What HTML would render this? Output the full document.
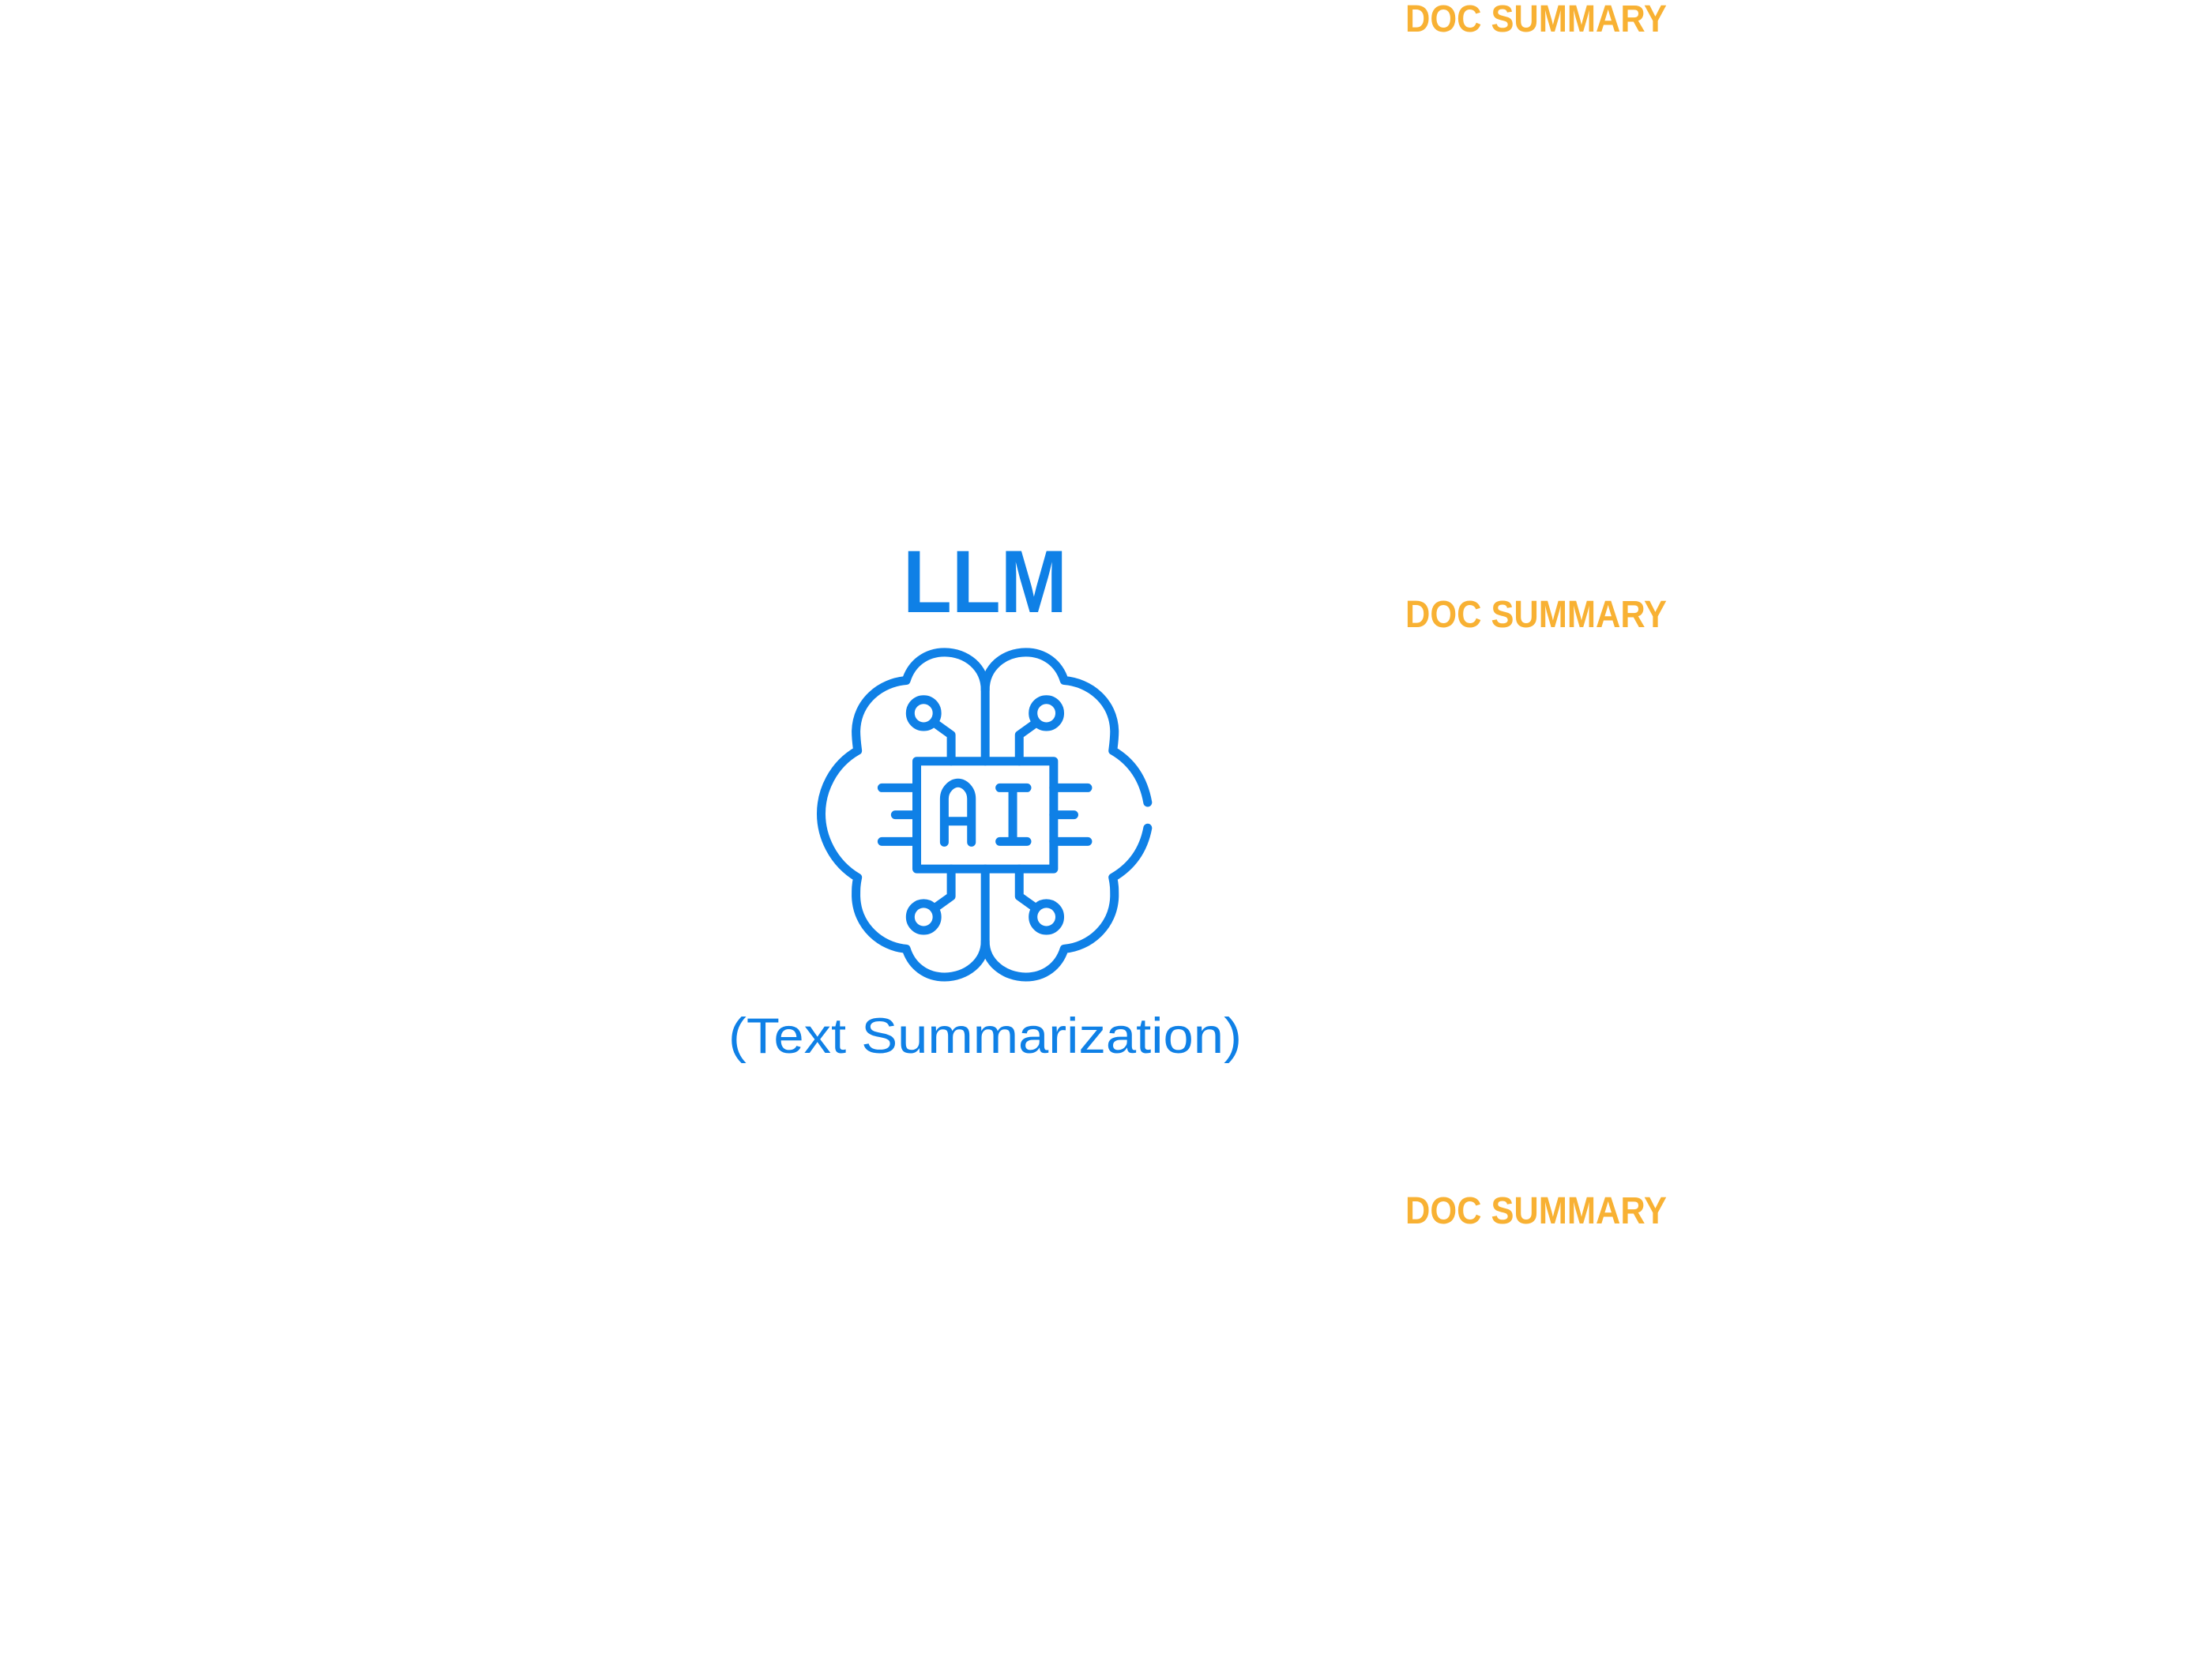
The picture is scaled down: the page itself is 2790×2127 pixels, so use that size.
<!DOCTYPE html>
<html>
<head>
<meta charset="utf-8">
<style>
  html,body{margin:0;padding:0;background:#fff;}
  body{width:2790px;height:2127px;position:relative;overflow:hidden;}
  svg{position:absolute;left:0;top:0;}
</style>
</head>
<body>
<svg width="2790" height="2127" viewBox="0 0 2790 2127">
  <g font-family="Liberation Sans, sans-serif" font-weight="bold" fill="#f8b133" font-size="48">
    <text x="1779" y="40" textLength="331" lengthAdjust="spacingAndGlyphs">DOC SUMMARY</text>
    <text x="1779" y="794" textLength="331" lengthAdjust="spacingAndGlyphs">DOC SUMMARY</text>
    <text x="1779" y="1549" textLength="331" lengthAdjust="spacingAndGlyphs">DOC SUMMARY</text>
  </g>
  <text x="1143" y="775" font-family="Liberation Sans, sans-serif" font-weight="bold" font-size="112" fill="#0f80e6" textLength="208" lengthAdjust="spacingAndGlyphs">LLM</text>
  <text x="922" y="1333" font-family="Liberation Sans, sans-serif" font-size="63" fill="#0f80e6" textLength="650" lengthAdjust="spacingAndGlyphs">(Text Summarization)</text>
  <svg x="900" y="650" width="800" height="750" viewBox="0 0 1560 1578" preserveAspectRatio="none">
    <g fill="none" stroke="#0f80e6" stroke-width="11" stroke-linecap="round" stroke-linejoin="round" vector-effect="non-scaling-stroke">
      <path vector-effect="non-scaling-stroke" d="M677,660 L677,470 C677,410 630,370 577,370 C530,370 495,400 482,445 C420,450 360,500 358,580 C358,600 360,615 362,632 C300,670 272,740 272,800 C272,860 300,930 362,970 C358,990 358,1000 358,1020 C360,1100 420,1155 482,1160 C495,1205 530,1235 577,1235 C630,1235 677,1195 677,1140 L677,947"/>
      <path vector-effect="non-scaling-stroke" d="M677,470 C677,410 724,370 777,370 C824,370 859,400 872,445 C934,450 994,500 996,580 C996,600 994,615 992,632 C1040,662 1068,710 1078,770"/>
      <path vector-effect="non-scaling-stroke" d="M1078,838 C1068,895 1040,940 992,970 C996,990 996,1000 996,1020 C994,1100 934,1155 872,1160 C859,1205 824,1235 777,1235 C724,1235 677,1195 677,1140"/>
      <rect vector-effect="non-scaling-stroke" x="508" y="660" width="338" height="287"/>
      <path vector-effect="non-scaling-stroke" d="M422,731 L508,731 M455,803 L508,803 M422,874 L508,874"/>
      <path vector-effect="non-scaling-stroke" d="M846,731 L930,731 M846,803 L896,803 M846,874 L930,874"/>
      <path vector-effect="non-scaling-stroke" d="M593,660 L593,590 L558,563 M761,660 L761,590 L796,563"/>
      <path vector-effect="non-scaling-stroke" d="M593,947 L593,1020 L558,1047 M761,947 L761,1020 L796,1047"/>
      <ellipse vector-effect="non-scaling-stroke" cx="525" cy="532" rx="33" ry="36"/>
      <ellipse vector-effect="non-scaling-stroke" cx="828" cy="532" rx="33" ry="36"/>
      <ellipse vector-effect="non-scaling-stroke" cx="525" cy="1075" rx="33" ry="36"/>
      <ellipse vector-effect="non-scaling-stroke" cx="828" cy="1075" rx="33" ry="36"/>
      <path vector-effect="non-scaling-stroke" d="M576,876 L576,760 C576,735 595,718 610,718 C625,718 643,735 643,760 L643,876 M576,820 L643,820"/>
      <path vector-effect="non-scaling-stroke" d="M713,731 L780,731 M745,731 L745,874 M713,874 L780,874"/>
    </g>
  </svg>
</svg>
</body>
</html>
